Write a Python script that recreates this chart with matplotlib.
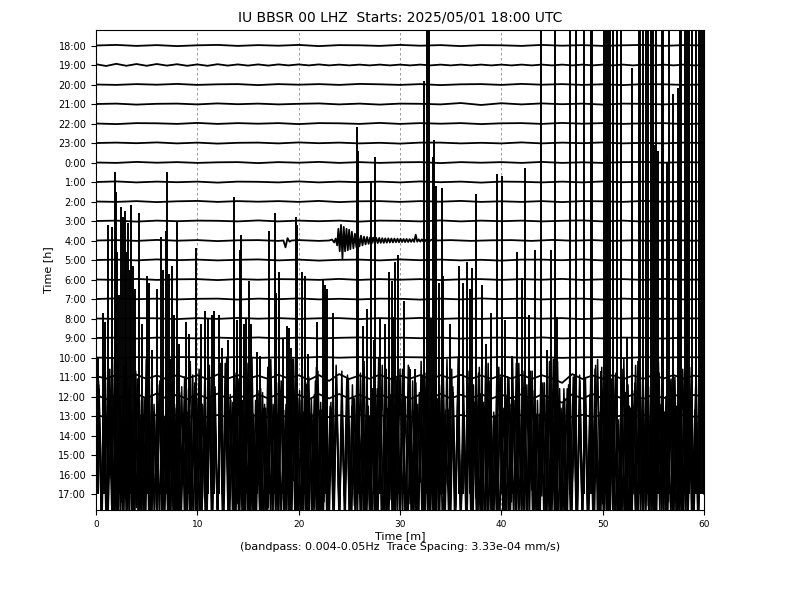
import numpy as np
import matplotlib
matplotlib.use("Agg")
import matplotlib.pyplot as plt

# ---------------- data ----------------
hour_labels = ["18:00", "19:00", "20:00", "21:00", "22:00", "23:00", "0:00", "1:00",
               "2:00", "3:00", "4:00", "5:00", "6:00", "7:00", "8:00", "9:00", "10:00",
               "11:00", "12:00", "13:00", "14:00", "15:00", "16:00", "17:00"]

x_ticks = [0, 10, 20, 30, 40, 50, 60]

title_text = "IU BBSR 00 LHZ  Starts: 2025/05/01 18:00 UTC"
xlabel_text = "Time [m]\n(bandpass: 0.004-0.05Hz  Trace Spacing: 3.33e-04 mm/s)"
ylabel_text = "Time [h]"

# trace amplitudes in units of trace spacing (uniform time grid over 60 min)
tr_18 = [0, .03, -.02, .02, -.03, .01, .03, -.02, .02, -.01, .03, -.03, .02, .01, -.02, .03,
         -.01, .02, -.03, .02, .01, -.02, .03, -.01, .02, -.02, .01, .03, -.02, .02, 0]
tr_19 = [.04, -.05, .06, -.04, .05, -.04, .05, -.03, .04, -.04, .03, -.04, .04, -.03, .03, -.03,
         .03, -.03, .03, -.02, .03, -.02, .03, -.02, .02, -.02, .02, -.02, .02, -.02, .02, -.02,
         .02, -.02, .02, -.02, .02, -.02, .02, -.02, .02, -.02, .02, -.02, .02, -.02, .02, -.02,
         .02, -.02, .02, -.02, .02, -.02, .02, -.02, .02, -.02, .02, -.02, 0]
tr_20 = [0, -.02, .02, -.01, .03, -.02, .01, .02, -.03, .02, -.01, .02, -.02, .03, .01, -.02,
         .02, -.03, .01, .02, -.02, .03, -.01, .02, -.02, .01, -.03, .02, .01, -.02, 0]
tr_21 = [0, .02, -.03, .01, .02, -.02, .03, -.01, .02, -.02, .01, .03, -.02, .02, -.03, .02,
         .01, -.02, .05, -.05, .04, -.02, .03, -.01, .02, -.03, .02, .01, -.02, .02, 0]
tr_22 = [0, -.03, .02, .01, -.02, .03, -.02, .02, -.01, .02, -.03, .02, .01, -.02, .03, -.02,
         .02, -.01, .02, -.03, .01, .02, -.02, .03, -.01, .02, -.02, .01, .02, -.03, 0]
tr_23 = [0, .02, -.01, .03, -.02, .02, -.03, .01, .02, -.02, .03, -.01, .02, -.02, .01, -.03,
         .02, .02, -.02, .01, -.02, .03, -.02, .02, -.01, .03, -.02, .01, -.02, .02, 0]
tr_00 = [0, -.02, .03, -.01, .02, -.02, .01, .02, -.03, .02, -.01, .03, -.02, .02, -.02, .01,
         .02, -.03, .02, -.01, .02, -.02, .03, -.02, .01, -.02, .02, .03, -.01, .02, 0]
tr_01 = [0, .03, -.02, .02, -.01, .02, -.03, .02, .01, -.02, .03, -.02, .02, -.01, .02, -.02,
         .03, -.01, .02, -.03, .02, .01, -.02, .02, -.02, .03, -.01, .02, -.02, .01, 0]
tr_02 = [0, -.02, .02, -.03, .01, .03, -.02, .02, -.01, .02, -.02, .03, -.03, .01, .02, -.02,
         .02, -.01, .03, -.02, .01, -.02, .02, -.03, .02, .01, -.02, .03, -.01, .02, 0]
tr_03 = [0, .02, -.03, .02, -.01, .02, .01, -.02, .03, -.02, .02, -.01, .02, -.03, .02, .01,
         -.02, .03, -.02, .02, -.01, .02, -.02, .01, .03, -.02, .02, -.03, .01, -.02, 0]
# 4:00 trace with the earthquake, irregular times (min)
tr_04_t = [0, 2, 4, 6, 8, 10, 12, 14, 16, 18, 18.5, 18.7, 18.9, 19.1, 19.3, 20, 22, 23.0,
           23.3, 23.5, 23.65, 23.8, 23.92, 24.05, 24.18, 24.32, 24.45, 24.58, 24.72, 24.85,
           24.98, 25.1, 25.25, 25.4, 25.55, 25.7, 25.85, 26.0, 26.15, 26.3, 26.45, 26.6,
           26.75, 26.9, 27.05, 27.2, 27.35, 27.5, 27.65, 27.8, 27.95, 28.1, 28.25, 28.4,
           28.55, 28.7, 28.85, 29.0, 29.15, 29.3, 29.45, 29.6, 29.75, 29.9, 30.05, 30.2,
           30.35, 30.5, 30.65, 30.8, 30.95, 31.1, 31.25, 31.4, 31.55, 31.7, 31.85, 32.0,
           32.15, 32.3, 32.45, 32.6, 32.75, 32.9, 33.1, 33.5, 35, 37, 39, 41, 43, 45, 47,
           49, 51, 53, 55, 57, 59, 60]
tr_04 = [0, .02, -.02, .03, -.01, .02, -.03, .01, .02, -.02, 0, -.35, .12, -.06, 0, .02,
         -.02, 0, .05, -.1, .1, -.25, .6, -.55, .8, -.92, .7, -.55, .6, -.5, .55, -.45, .45,
         -.4, .35, -.35, .3, -.3, .25, -.25, .2, -.2, .18, -.17, .16, -.15, .15, -.14, .14,
         -.13, .13, -.12, .12, -.12, .11, -.11, .11, -.1, .1, -.1, .1, -.09, .09, -.09, .09,
         -.08, .08, -.08, .08, -.08, .07, -.07, .07, -.07, .3, -.06, .06, -.06, .06, -.05,
         .05, -.05, .05, -.04, .04, 0, .02, -.02, .01, .02, -.02, .03, -.01, .02, -.02, .01,
         -.02, .02, -.01, 0]
tr_05 = [0, .02, -.02, .03, -.01, .02, -.02, .01, .03, -.02, .02, -.03, .01, .02, -.02, .03,
         -.01, .02, -.02, .01, -.03, .02, .02, -.01, .03, -.02, .01, -.02, .02, -.01, 0]
tr_06 = [0, -.02, .03, -.02, .01, .02, -.03, .02, -.01, .02, .01, -.02, .03, -.02, .02, -.01,
         .02, -.03, .01, .02, -.02, .02, -.01, .03, -.02, .01, .02, -.02, .03, -.01, 0]
tr_07 = [0, .03, -.01, .02, -.02, .01, .02, -.03, .02, -.01, .03, -.02, .01, -.02, .02, .01,
         -.03, .02, -.02, .03, -.01, .02, -.02, .01, .02, -.03, .02, -.01, .02, -.02, 0]
tr_08 = [0, -.02, .02, .01, -.03, .02, -.02, .03, -.01, .02, -.02, .01, .02, -.03, .02, -.01,
         .03, -.02, .01, -.02, .02, .03, -.01, .02, -.03, .02, -.01, .02, -.02, .01, 0]
tr_09 = [0, .02, -.03, .02, .01, -.02, .02, -.01, .03, -.02, .02, -.02, .01, .03, -.02, .02,
         -.01, .02, -.03, .01, .02, -.02, .03, -.02, .01, -.02, .02, .01, -.03, .02, 0]
tr_10 = [0, -.03, .02, -.01, .02, .02, -.02, .03, -.02, .01, -.02, .03, -.01, .02, -.02, .02,
         .01, -.03, .02, -.02, .03, -.01, .02, -.02, .01, .02, -.03, .02, -.01, .02, 0]
tr_11 = [.05, -.08, .1, -.06, .12, -.1, .08, -.12, .1, -.07, .09, -.11, .13, -.08, .1, -.09,
         .07, -.1, .12, -.08, .09, -.15, .1, -.2, .15, -.1, .08, -.09, .12, -.1, .07, -.08,
         .1, -.12, .09, -.07, .11, -.1, .08, -.09, .1, -.08, .12, -.1, .09, -.07, -.3, .15,
         -.1, .08, -.09, .1, -.12, .08, -.1, .11, -.08, .1, -.09, .07, 0]
tr_12 = [.1, -.15, .12, -.18, .14, -.1, .16, -.12, .1, -.14, .12, -.09, .15, -.11, .1, -.13,
         .11, -.1, .14, -.12, .09, -.15, .12, -.1, .13, -.11, .1, -.14, .12, -.09, .11, -.13,
         .1, -.12, .14, -.1, .09, -.11, .13, -.12, .1, -.09, .12, -.14, .11, -.1, -.32, .12,
         -.11, .13, -.1, .09, -.12, .11, -.13, .1, -.09, .12, -.1, .08, 0]
tr_13 = [.04, -.06, .05, -.07, .06, -.04, .05, -.06, .07, -.05, .04, -.06, .05, -.05, .06,
         -.04, .05, -.07, .04, -.05, .06, -.04, .05, -.06, .04, -.05, .07, -.04, .05, -.06,
         .04, -.05, .06, -.05, .04, -.06, .05, -.04, .06, -.05, .04, -.06, .05, -.04, .06,
         -.05, .04, -.05, .06, -.04, .05, -.06, .04, -.05, .05, -.04, .06, -.05, .04, -.03, 0]
tr_14 = [0.5, 2.8, -3.9, 1.4, -4.6, 3.1, -2.2, 2.0, -4.8, 1.1, -3.4, 3.6, -1.5, 2.4, -4.2, 0.8, -3.7, 2.9, -4.9, 1.9,
         -2.6, 3.3, -4.4, 1.2, -3.1, 2.6, -4.7, 0.9, -2.9, 3.8, -3.8, 1.6, -4.5, 2.2, -2.4, 3.0, -4.0, 1.3, -3.6, 2.7,
         -4.9, 1.7, -3.2, 3.4, -2.7, 1.0, -4.3, 2.5, -3.9, 1.5, -4.6, 3.7, -2.1, 2.1, -4.8, 1.2, -3.5, 2.8, -4.1, 0.7,
         -3.0, 3.2, -4.5, 1.8, -2.5, 2.4, -4.9, 1.4, -3.7, 3.9, -2.8, 1.1, -4.2, 2.3, -3.3, 1.6, -4.7, 3.1, -2.3, 2.0,
         -4.4, 0.9, -3.8, 2.6, -4.0, 1.9, -2.9, 3.5, -4.6, 1.3, -3.4, 2.2, -4.8, 1.0, -2.6, 3.0, -4.3, 1.7, -3.1, 2.9,
         -4.5, 1.5, -3.6, 3.3, -2.2, 1.2, -4.9, 2.7, -3.9, 0.8, -4.1, 2.4, -2.7, 3.6, -4.4, 1.4, -3.3, 2.1, -4.7, 1.8,
         -2.8, 3.4, -4.2, 1.1, -3.5, 2.8, -4.6, 1.6, -2.4, 3.1, -4.0, 0.9, -3.8, 2.5, -4.8, 1.9, -3.0, 3.7, -2.5, 1.3,
         -4.3, 2.2, -3.7, 1.5, -4.9, 3.0, -2.9, 1.0, -4.4, 2.6, -3.2, 3.2, -4.6, 1.7, -2.6, 2.0, -4.1, 1.2, -3.9, 3.5,
         -2.3, 1.4, -4.7, 2.9, -3.4, 1.8, -4.2, 0.8, -3.6, 3.3, -4.5, 1.6, -2.8, 2.3, -4.9, 1.1, -3.1, 2.7, -4.3, 3.8,
         -2.6, 1.3, -4.0, 2.4, -3.8, 1.9, -4.8, 3.1, -2.4, 1.0, -4.5, 2.8, -3.3, 1.5, -4.1, 2.1, -2.9, 3.4, -4.7, 1.2,
         -3.5, 2.6, -4.3, 1.7, -2.7, 3.0, -4.6, 0.9, -3.9, 2.2, -4.9, 1.4, -3.0, 3.6, -2.2, 1.8, -4.4, 2.5, -3.6, 1.1,
         -4.8, 3.2, -2.8, 1.6, -4.2, 2.0, -3.4, 2.9, -4.6, 1.3, -3.7, 2.4, -4.0, 1.9, -2.5, 3.5, -4.5, 1.0, -3.2, 2.7,
         0]
tr_15 = [-0.5, 3.6, -3.2, 2.1, -3.9, 4.4, -2.9, 2.7, -3.5, 1.9, -4.0, 4.8, -3.0, 2.3, -3.7, 3.9, -2.8, 2.0, -3.3, 4.5,
         -3.8, 2.6, -3.0, 3.2, -4.0, 1.8, -3.4, 4.9, -2.9, 2.4, -3.6, 3.5, -3.1, 2.2, -3.9, 4.1, -2.8, 2.9, -3.5, 1.9,
         -4.0, 4.6, -3.2, 2.5, -3.7, 3.0, -2.9, 4.2, -3.4, 2.0, -3.8, 3.7, -3.0, 2.8, -4.0, 4.7, -3.3, 2.1, -3.6, 3.3,
         -2.9, 2.6, -3.9, 4.3, -3.1, 1.8, -3.5, 3.8, -4.0, 2.4, -3.0, 4.9, -3.7, 2.9, -3.3, 2.2, -3.8, 4.0, -2.8, 3.1,
         -3.6, 2.3, -3.9, 4.5, -3.2, 2.7, -3.4, 3.4, -4.0, 1.9, -3.0, 4.1, -3.7, 3.0, -2.9, 2.5, -3.5, 4.8, -3.1, 2.0,
         -3.8, 3.6, -3.3, 2.8, -4.0, 4.4, -2.9, 2.1, -3.6, 3.9, -3.2, 2.6, -3.9, 4.6, -3.0, 1.8, -3.4, 3.2, -3.7, 4.2,
         -2.8, 2.4, -3.5, 3.7, -4.0, 2.9, -3.1, 4.9, -3.6, 2.2, -3.3, 3.5, -3.8, 2.0, -2.9, 4.3, -3.4, 2.7, -4.0, 3.1,
         -3.0, 4.6, -3.7, 2.3, -3.2, 3.8, -3.9, 1.9, -3.5, 4.0, -2.8, 2.8, -3.6, 4.7, -3.1, 2.5, -4.0, 3.3, -3.3, 2.1,
         -3.8, 4.4, -2.9, 3.0, -3.5, 2.4, -4.0, 4.8, -3.2, 2.6, -3.7, 3.6, -3.0, 2.0, -3.9, 4.1, -3.4, 2.9, -3.1, 3.9,
         -3.6, 2.2, -4.0, 4.5, -2.8, 2.7, -3.5, 3.4, -3.9, 1.8, -3.2, 4.9, -3.7, 2.5, -3.0, 3.7, -4.0, 2.3, -3.4, 4.2,
         -3.1, 2.8, -3.8, 3.1, -2.9, 4.6, -3.6, 2.1, -3.3, 3.8, -4.0, 2.6, -3.0, 4.3, -3.5, 2.0, -3.9, 3.5, -2.8, 4.7,
         0]
tr_16 = [0.5, 4.4, -2.2, 5.7, -1.9, 3.4, -2.8, 6.0, -2.0, 4.1, -2.6, 3.0, -1.8, 5.2, -2.9, 3.8, -2.1, 5.9, -2.4, 3.2,
         -2.7, 4.8, -1.9, 3.5, -3.0, 5.5, -2.2, 4.0, -2.5, 3.1, -1.8, 5.8, -2.8, 4.3, -2.0, 3.6, -2.6, 5.1, -2.3, 3.3,
         -1.9, 4.6, -2.9, 6.0, -2.1, 3.7, -2.4, 4.9, -1.8, 3.0, -2.7, 5.4, -2.0, 4.2, -3.0, 3.4, -2.2, 5.7, -2.5, 3.9,
         -1.9, 4.5, -2.8, 3.2, -2.1, 5.9, -2.6, 3.8, -2.0, 4.7, -2.9, 3.1, -1.8, 5.3, -2.3, 4.0, -2.7, 3.5, -2.1, 5.6,
         -2.4, 3.3, -1.9, 4.9, -3.0, 3.9, -2.2, 5.2, -2.6, 3.0, -2.0, 4.4, -2.8, 6.0, -2.1, 3.6, -2.5, 4.1, -1.8, 5.0,
         -2.9, 3.4, -2.3, 5.5, -2.0, 4.3, -2.7, 3.1, -2.2, 5.8, -2.4, 3.7, -1.9, 4.6, -3.0, 3.3, -2.1, 5.4, -2.6, 4.0,
         -2.0, 3.2, -2.8, 5.1, -2.3, 4.5, -1.8, 3.6, -2.9, 5.7, -2.2, 3.0, -2.5, 4.8, -2.0, 3.9, -2.7, 6.0, -2.1, 3.5,
         -2.4, 4.2, -1.9, 5.3, -3.0, 3.1, -2.2, 4.7, -2.6, 3.8, -2.0, 5.6, -2.8, 3.4, -2.3, 4.4, -1.8, 5.0, -2.7, 3.2,
         -2.1, 4.9, -2.9, 3.7, -2.0, 5.9, -2.4, 3.3, -2.6, 4.1, -1.9, 5.2, -3.0, 3.0, -2.2, 4.6, -2.5, 3.6, -2.1, 5.5,
         -2.8, 3.9, -2.0, 4.3, -2.3, 5.8, -1.8, 3.1, -2.7, 4.8, -2.2, 3.5, -2.9, 5.4, -2.0, 4.0, -2.6, 3.3, -2.4, 5.1,
         0]
tr_17 = [0, 5.3, -1.2, 6.6, -1.6, 4.2, -1.0, 7.0, -1.9, 4.9, -1.3, 5.8, -1.1, 4.4, -1.7, 6.3, -1.4, 4.0, -1.2, 6.9,
         -1.8, 5.1, -1.0, 4.6, -1.5, 6.1, -1.3, 4.3, -1.9, 5.6, -1.1, 6.8, -1.6, 4.1, -1.2, 5.4, -1.4, 4.7, -1.0, 6.4,
         -1.7, 4.5, -1.3, 5.9, -1.1, 4.2, -1.8, 6.7, -1.2, 5.0, -1.5, 4.8, -1.0, 6.2, -1.9, 4.4, -1.3, 5.5, -1.1, 7.0,
         -1.6, 4.0, -1.2, 5.2, -1.4, 6.5, -1.0, 4.6, -1.8, 5.7, -1.3, 4.3, -1.1, 6.0, -1.7, 4.9, -1.2, 5.3, -1.5, 6.6,
         -1.0, 4.1, -1.9, 5.8, -1.2, 4.7, -1.4, 6.9, -1.1, 4.4, -1.6, 5.1, -1.3, 6.3, -1.0, 4.2, -1.8, 5.6, -1.2, 4.8,
         -1.5, 6.7, -1.1, 4.5, -1.7, 5.4, -1.0, 6.1, -1.3, 4.0, -1.9, 5.9, -1.2, 4.6, -1.4, 6.4, -1.1, 5.0, -1.6, 4.3,
         -1.0, 5.7, -1.3, 6.8, -1.8, 4.2, -1.2, 5.2, -1.5, 4.9, -1.0, 6.2, -1.7, 4.4, -1.1, 5.5, -1.4, 7.0, -1.2, 4.1,
         -1.6, 5.3, -1.0, 4.7, -1.9, 6.5, -1.3, 4.5, -1.1, 5.8, -1.5, 4.0, -1.2, 6.0, -1.8, 5.1, -1.0, 4.6, -1.4, 6.7,
         -1.2, 4.3, -1.7, 5.6, -1.1, 6.3, -1.4, 4.8, -1.0, 5.0, -1.9, 4.2, -1.3, 6.9, -1.2, 4.6, -1.6, 5.4, -1.0, 4.9,
         -1.5, 6.1, -1.2, 4.4, -1.8, 5.7, -1.1, 4.1, -1.3, 6.6, -1.0, 5.2, -1.7, 4.5, -1.4, 5.9, -1.2, 4.0, -1.9, 6.4,
         -1.1, 4.8, -1.5, 5.3, -1.0, 6.8, -1.6, 4.3, -1.3, 5.5, -1.2, 4.7, -1.8, 6.2, -1.0, 4.2, -1.4, 5.0, -1.1, 6.0,
         -1.7, 4.6, -1.2, 5.8, -1.0, 4.4, -1.5, 6.5, -1.3, 4.9,
         0]

# large spikes, all attached to the 17:00 trace: time (min) and amplitude (trace spacings)
spike_hour = "17:00"
spike_times = [0.16, 0.7, 0.9, 1.15, 1.55, 1.9, 2.0, 2.1, 2.3, 2.5, 2.7, 2.9, 3.0, 3.2, 3.35,
               3.5, 3.7, 3.85, 4.2, 4.5, 5.0, 5.2, 5.5, 6.05, 6.4, 6.6, 6.95, 7.05, 7.2, 7.5,
               7.7, 8.0, 8.2, 8.85, 9.2, 9.9, 10.4, 10.8, 11.1, 11.4, 11.6, 12.1, 12.4, 13.05,
               13.6, 13.65, 13.9, 14.2, 14.3, 14.6, 14.8, 15.1, 15.3, 15.9, 16.2, 17.1, 17.7,
               17.8, 18.1, 18.5, 18.8, 19.0, 19.2, 19.7, 19.8, 20.3, 20.6, 20.9, 21.8, 22.4,
               22.6, 22.8, 23.4, 25.8, 25.85, 26.3, 26.7, 27.1, 27.4, 27.5, 28.0, 28.5, 28.9,
               29.2, 29.3, 29.5, 29.8, 30.4, 31.0, 31.5, 32.4, 32.7, 32.9, 33.1, 33.3, 33.4,
               33.6, 33.8, 34.1, 34.2, 34.9, 35.8, 36.2, 36.6, 36.9, 37.1, 37.5, 38.1, 38.5,
               39.0, 39.6, 40.1, 40.4, 41.1, 41.5, 42.0, 42.35, 42.7, 43.3, 43.9, 44.5, 44.9,
               45.3, 45.5, 46.8, 47.35, 48.2, 48.8, 48.9, 49.8, 50.1, 50.3, 50.4, 50.5, 50.7,
               51.0, 51.4, 51.8, 52.4, 52.9, 53.6, 53.7, 54.0, 54.3, 54.5, 54.8, 55.0, 55.1,
               55.3, 55.5, 55.85, 55.9, 56.0, 56.3, 56.5, 56.9, 57.4, 57.6, 57.7, 58.1, 58.3,
               58.35, 58.5, 58.8, 59.2, 59.25, 59.5, 59.7, 59.95]
spike_amps = [7.0, 9.3, 8.8, 13.8, 13.7, 16.5, 15.5, 12.4, 10.2, 14.7, 14.2, 14.5, 12.4, 13.9, 11.5,
              14.8, 11.7, 10.5, 14.4, 8.7, 11.2, 10.8, 7.4, 10.5, 13.2, 11.5, 13.5, 16.5, 11.3, 11.7,
              9.2, 14.0, 7.7, 8.8, 8.2, 12.6, 8.7, 9.4, 9.0, 9.2, 9.4, 9.2, 7.5, 7.9,
              13.5, 15.25, 8.9, 12.5, 13.3, 8.7, 9.0, 10.9, 8.7, 7.3, 7.1, 13.5, 14.4,
              10.3, 11.4, 8.0, 8.6, 8.5, 7.5, 14.2, 13.8, 11.4, 11.2, 7.2, 8.8, 11.0,
              10.7, 10.5, 9.3, 18.8, 17.6, 8.6, 9.5, 16.0, 7.9, 17.3, 9.0, 8.7, 11.4,
              10.9, 9.1, 11.9, 12.25, 9.9, 6.4, 6.4, 21.2, 27, 27, 9.0, 17.3, 18.15,
              15.8, 10.8, 15.7, 11.2, 8.7, 11.7, 10.8, 11.9, 10.5, 11.6, 15.4, 10.7, 7.7,
              9.3, 16.4, 16.3, 8.9, 7.1, 12.4, 11.1, 16.7, 9.2, 12.5, 27, 7.4, 12.5,
              27, 9.1, 27, 27, 27, 27, 27, 6.3, 27, 27, 17.4, 27, 27,
              27, 27, 27, 8.0, 21.85, 27, 27, 27, 27, 27, 27, 27, 17.9,
              27, 17.6, 17.2, 27, 27, 17.0, 27, 20.5, 20.8, 27, 27, 27, 14.4,
              27, 27, 27, 15.6, 27, 27, 27, 27]

# ---------------- plot ----------------
traces = [tr_18, tr_19, tr_20, tr_21, tr_22, tr_23, tr_00, tr_01, tr_02, tr_03, tr_04,
          tr_05, tr_06, tr_07, tr_08, tr_09, tr_10, tr_11, tr_12, tr_13, tr_14, tr_15,
          tr_16, tr_17]
trace_times = {10: tr_04_t}

fig = plt.figure(figsize=(8, 6), dpi=100)
ax = fig.add_axes([0.12, 0.15, 0.76, 0.80])

for k, vals in enumerate(traces):
    v = np.asarray(vals, dtype=float)
    if k in trace_times:
        t = np.asarray(trace_times[k], dtype=float)
    else:
        t = np.linspace(0, 60, len(v))
    lw = 1.1 if k >= 20 else 1.3
    ax.plot(t, v - k, color="k", lw=lw, zorder=2)

base = -hour_labels.index(spike_hour)
st = np.asarray(spike_times)
sa = np.asarray(spike_amps)
ax.vlines(st, base, base + sa, colors="k", lw=1.4, zorder=3)

ax.set_xlim(0, 60)
ax.set_ylim(-23.82, 0.795)
ax.set_xticks(x_ticks)
ax.set_xticklabels([str(x) for x in x_ticks], fontsize=6.5)
ax.set_yticks([-k for k in range(len(hour_labels))])
ax.set_yticklabels(hour_labels, fontsize=7)
ax.grid(axis="x", linestyle=(0, (3, 3)), color="0.55", lw=0.6, zorder=1)
ax.set_axisbelow(True)
ax.set_title(title_text, fontsize=10)
ax.set_xlabel(xlabel_text, fontsize=8, labelpad=2, linespacing=1.1)
ax.set_ylabel(ylabel_text, fontsize=8)

fig.savefig("out.png", dpi=100)
